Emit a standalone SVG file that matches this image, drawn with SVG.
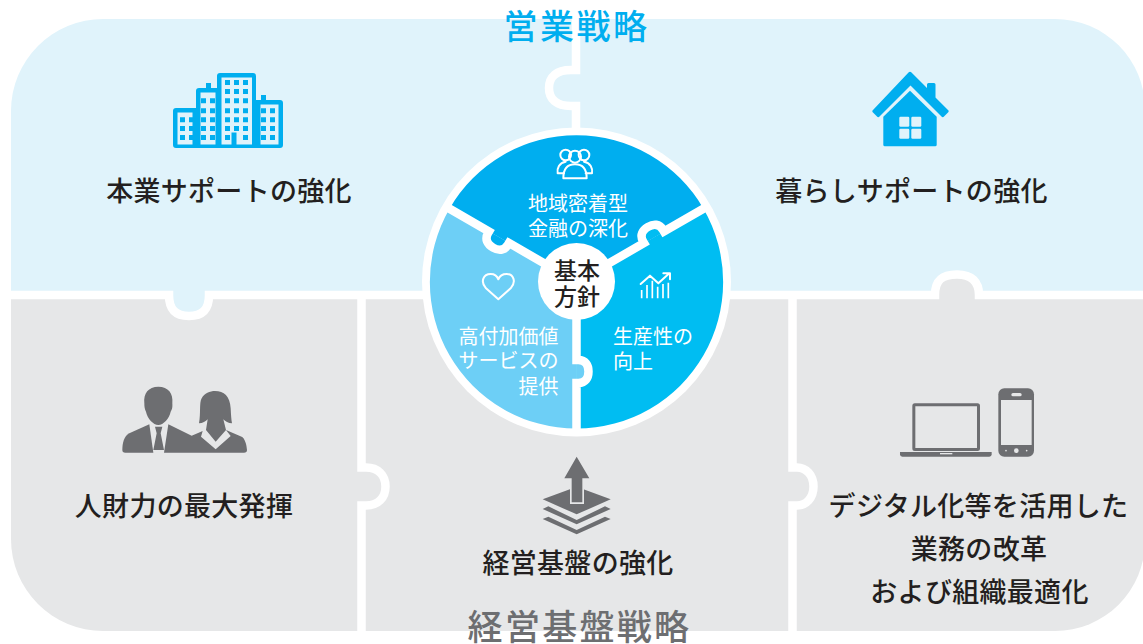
<svg xmlns="http://www.w3.org/2000/svg" width="1143" height="644" viewBox="0 0 1143 644">
<style>
text{font-family:"Noto Sans CJK JP","Noto Sans",sans-serif}
.lab{font-size:27px;font-weight:500;fill:#231f20;letter-spacing:.3px}
.sec{font-size:20px;font-weight:400;fill:#fff}
.mid{font-size:23px;font-weight:500;fill:#231f20}
.m{text-anchor:middle}
.gap{fill:none;stroke:#fff;stroke-width:8.5}
.bl{fill:#e0f3fb}.gr{fill:#e6e7e8}
.ic{fill:#00aeef}.dk{fill:#6d6e71}
.ln{fill:none;stroke:#fff;stroke-width:6;stroke-linejoin:round;stroke-linecap:round}
.wh{fill:#fff}
</style>
<g id="panels">
<path class="gr" d="M11,295H1145V541A90,90 0 0 1 1055,631H103A92,92 0 0 1 11,539Z"/>
<path class="bl" d="M103,19H1055A90,90 0 0 1 1145,109V291H11V111A92,92 0 0 1 103,19Z"/>
<path class="bl" d="M169,291H209V299C209,310 202,316 189,316C176,316 169,310 169,299Z"/>
<path class="gr" d="M935,299V295C935,280 942,274.500 957,274.500C972,274.500 979,282 979,295V299Z"/>
</g>
<g id="connectors">
<path class="gap" d="M0,295H169C169,310 176,316 189,316C202,316 209,310 209,295H935C935,280 942,274.500 957,274.500C972,274.500 979,282 979,295H1143"/>
<path class="gap" d="M576,0V70H571C556,70 549,77 549,88C549,99 556,106 571,106H576V140"/>
<path class="gap" d="M361.500,295V467.500H366C378,467.500 385.500,475 385.500,486.500C385.500,498 378,505.500 366,505.500H361.500V640"/>
<path class="gap" d="M792.500,295V467.500H797C806,467.500 813.500,475 813.500,486.500C813.500,498 806,505.500 797,505.500H792.500V640"/>
</g>
<text x="576.500" y="39" class="m" style="font-size:34px;font-weight:500;fill:#00aeef;letter-spacing:2.500px">営業戦略</text>
<text x="579.500" y="640" class="m" style="font-size:35px;font-weight:500;fill:#6d6e71;letter-spacing:2.300px">経営基盤戦略</text>
<g id="node-honsai">
<g class="ic">
<path fill-rule="evenodd" d="M173,111a3,3 0 0 1 3,-3h20v-17a3,3 0 0 1 3,-3h7v-5h5v5h6v-12a3,3 0 0 1 3,-3h33a3,3 0 0 1 3,3v24h5v-5h5v5h14a3,3 0 0 1 3,3v42a3,3 0 0 1 -3,3h-104a3,3 0 0 1 -3,-3zM177.500,112.500v32h15v-32zM200.500,92.500v52h15v-52zM221.500,77.500v67h10v-12h5v12h15.500v-67zM260.500,104.500v40h18v-40z"/>
<path d="M180,117.300h5v5h-5zM189,117.300h5v5h-5zM180,126h5v5h-5zM189,126h5v5h-5zM180,135h5v5h-5zM189,135h5v5h-5zM201,98.300h5v5h-5zM210,98.300h5v5h-5zM201,108.300h5v5h-5zM210,108.300h5v5h-5zM201,117.300h5v5h-5zM210,117.300h5v5h-5zM201,126h5v5h-5zM210,126h5v5h-5zM201,135h5v5h-5zM210,135h5v5h-5zM225,80h5v5h-5zM234,80h5v5h-5zM243,80h5v5h-5zM225,89h5v5h-5zM234,89h5v5h-5zM243,89h5v5h-5zM225,98.300h5v5h-5zM234,98.300h5v5h-5zM243,98.300h5v5h-5zM225,108.300h5v5h-5zM234,108.300h5v5h-5zM243,108.300h5v5h-5zM225,117.300h5v5h-5zM234,117.300h5v5h-5zM243,117.300h5v5h-5zM225,126h5v5h-5zM234,126h5v5h-5zM243,126h5v5h-5zM225,135h5v5h-5zM243,135h5v5h-5zM261,108.300h5v5h-5zM270,108.300h5v5h-5zM261,117.300h5v5h-5zM270,117.300h5v5h-5zM261,126h5v5h-5zM270,126h5v5h-5zM261,135h5v5h-5zM270,135h5v5h-5z"/>
</g>
<text x="229" y="201" class="lab m">本業サポートの強化</text>
</g>
<g id="node-kurashi">
<path class="ic" d="M908.500,72.500a2,2 0 0 1 3,0l15.500,15.500v-3.500a1.500,1.500 0 0 1 1.500,-1.500h5.500a1.500,1.500 0 0 1 1.500,1.500v13l12.500,12.500a1.500,1.500 0 0 1 0,2.500l-4,4a1.500,1.500 0 0 1 -2.500,0l-31,-31l-31,31a1.500,1.500 0 0 1 -2.500,0l-4,-4a1.500,1.500 0 0 1 0,-2.500z"/>
<path class="ic" d="M910,90.700l26.700,26v28a1.500,1.500 0 0 1 -1.500,1.500h-50.400a1.500,1.500 0 0 1 -1.500,-1.500v-28z"/>
<g class="bl"><rect x="899.300" y="116.700" width="10" height="10" rx="1.200"/><rect x="911.300" y="116.700" width="10" height="10" rx="1.200"/><rect x="899.300" y="128.700" width="10" height="10" rx="1.200"/><rect x="911.300" y="128.700" width="10" height="10" rx="1.200"/></g>
<text x="911.500" y="201" class="lab m">暮らしサポートの強化</text>
</g>
<g id="node-jinzai">
<g class="dk" transform="translate(100,370) scale(.33333)">
<path d="M133,100C130,70 145,50 175,50C205,50 220,70 217,100C218,115 215,120 212,125C208,145 190,165 175,165C160,165 142,145 138,125C134,118 133,110 133,100Z"/>
<path d="M148,163L88,190C72,198 67,220 67,240C67,246 70,248 76,248H160Z"/>
<path d="M205,163L275,197L308,183L303,200L347,238L392,198L378,180L425,200C435,205 440,225 441,240C441,246 438,248 432,248H192Z"/>
<path d="M165,170H187L182,190L192,240H160L170,190Z"/>
<path d="M297,160C303,130 297,100 305,85C313,70 330,63 345,63C372,63 390,78 392,115C393,135 394,150 396,160C385,160 376,155 370,148L378,180L347,215L318,180L323,148C317,155 308,160 297,160Z"/>
</g>
<text x="184" y="516" class="lab m">人財力の最大発揮</text>
</g>
<g id="node-keiei">
<g class="dk" transform="translate(520,445) scale(.33333)">
<path d="M170,125L272,163L170,208L68,163Z"/>
<path class="gr" d="M150,100H192V177H150Z"/>
<path d="M170,35L208,100H187V172H155V100H133Z"/>
<path d="M68,192L85,184L170,225L255,184L272,192L170,238Z"/>
<path d="M68,222L85,215L170,255L255,215L272,222L170,268Z"/>
</g>
<text x="578" y="573" class="lab m">経営基盤の強化</text>
</g>
<g id="node-digital">
<g transform="translate(890,375) scale(.33333)">
<rect x="71.500" y="89.500" width="194" height="134" rx="3" fill="none" stroke="#6d6e71" stroke-width="9"/>
<path class="dk" d="M30,231H305V238Q305,245 298,245H37Q30,245 30,238Z"/>
<rect class="gr" x="150" y="234" width="37" height="4"/>
<rect class="dk" x="325" y="40" width="107" height="205" rx="18"/>
<rect class="gr" x="333" y="75" width="92" height="135"/>
<rect class="gr" x="364" y="54" width="31" height="10" rx="5"/>
<circle class="gr" cx="379" cy="227" r="7"/><circle class="gr" cx="348" cy="227" r="2.500"/><circle class="gr" cx="410" cy="227" r="2.500"/>
</g>
<text x="978.500" y="516" class="lab m">デジタル化等を活用した</text>
<text x="979" y="559" class="lab m">業務の改革</text>
<text x="979.500" y="602" class="lab m">および組織最適化</text>
</g>
<g id="hub">
<circle class="wh" cx="576.500" cy="282" r="154.500"/>
<g transform="translate(576.500,282)">
<path fill="#00bdf2" d="M127,-73.300A146.600,146.600 0 0 1 0,146.600L0,0Z"/>
<path fill="#6dcff6" d="M0,146.600A146.600,146.600 0 0 1 -127,-73.300L0,0Z"/>
<path fill="#00aeef" d="M-127,-73.300A146.600,146.600 0 0 1 127,-73.300L0,0Z"/>
<g class="gap">
<path id="d" fill="#6dcff6" d="M0,0V78H2C9,78 12,83 12,89.500C12,96 9,101 2,101H0V150"/>
<path fill="#00aeef" transform="rotate(120)" d="M0,0V78H2C9,78 12,83 12,89.500C12,96 9,101 2,101H0V150"/>
<path fill="#00bdf2" transform="rotate(240)" d="M0,0V78H2C9,78 12,83 12,89.500C12,96 9,101 2,101H0V150"/>
</g>
</g>
<circle class="wh" cx="576.500" cy="281.500" r="38.500"/>
<text x="577" y="279" class="mid m">基本</text>
<text x="577" y="305" class="mid m">方針</text>
</g>
<g id="node-chiiki">
<g class="ln" transform="translate(400,110) scale(.33333)">
<circle cx="525" cy="140" r="18"/><circle cx="497" cy="135" r="16"/><circle cx="552" cy="135" r="16"/>
<path d="M490,205C490,175 505,163 525,163C545,163 560,175 560,205Z"/>
<path d="M497,155C478,158 470,175 473,190H492"/><path d="M552,155C571,158 579,175 576,190H557"/>
</g>
<text x="578" y="211" class="sec m">地域密着型</text>
<text x="578" y="236" class="sec m">金融の深化</text>
</g>
<g id="node-kachi">
<path class="ln" transform="translate(400,110) scale(.33333)" d="M295,568L258,535C240,515 250,492 272,492C285,492 292,500 295,508C298,500 305,492 320,492C340,492 350,515 332,535Z"/>
<text x="558.500" y="344" class="sec" text-anchor="end">高付加価値</text>
<text x="558.500" y="368" class="sec" text-anchor="end">サービスの</text>
<text x="558.500" y="394" class="sec" text-anchor="end">提供</text>
</g>
<g id="node-seisansei">
<g class="ln" transform="translate(400,110) scale(.33333)">
<path d="M722,522L750,497L775,520L808,490M790,490H810V508"/>
<path stroke-linecap="butt" stroke-width="5" d="M725,565V540M741,565V525M757,565V512M773,565V530M789,565V522M805,565V518"/>
</g>
<text x="613" y="344" class="sec">生産性の</text>
<text x="613" y="369" class="sec">向上</text>
</g>
</svg>
